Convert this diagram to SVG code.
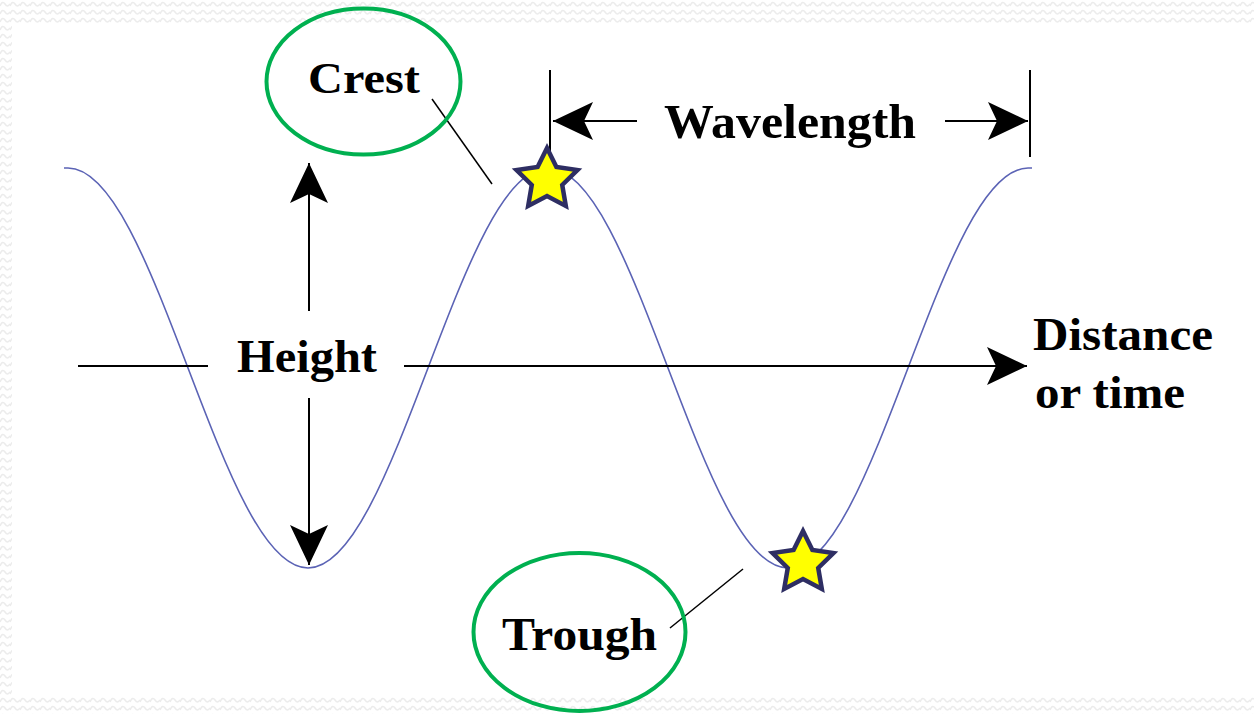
<svg xmlns="http://www.w3.org/2000/svg" width="1254" height="714" viewBox="0 0 1254 714">
  <style>
    .lbl { font-family: "Liberation Serif", "Times New Roman", serif; font-weight: bold; fill: #000; }
    .ln { stroke: #000; stroke-width: 2; fill: none; }
    .lead { stroke: #000; stroke-width: 1.5; fill: none; }
    .oval { fill: none; stroke: #00b050; stroke-width: 4; }
    .star { fill: #ffff00; stroke: #2e2e63; stroke-width: 4.5; stroke-linejoin: miter; }
    .wave { fill: none; stroke: #5b63b5; stroke-width: 1.6; }
  </style>
  <defs>
    <pattern id="zz" width="10" height="8" patternUnits="userSpaceOnUse">
      <path d="M0,6 Q2.5,0 5,4 T10,4" fill="none" stroke="#ececec" stroke-width="1.5"/>
    </pattern>
    <marker id="ah" viewBox="0 0 40 40" markerWidth="40" markerHeight="40" refX="40" refY="20" orient="auto" markerUnits="userSpaceOnUse">
      <path d="M40,20 L0,1 L9,20 L0,39 Z" fill="#000"/>
    </marker>
    <path id="starShape" d="M0,-32 L9.4,-12.94 L30.43,-9.89 L15.22,4.94 L18.81,25.89 L0,16 L-18.81,25.89 L-15.22,4.94 L-30.43,-9.89 L-9.4,-12.94 Z"/>
  </defs>

  <rect width="1254" height="714" fill="#ffffff"/>
  <g id="border">
    <rect x="0" y="0" width="1254" height="25" fill="url(#zz)"/>
    <rect x="0" y="25" width="12" height="672" fill="url(#zz)"/>
    <rect x="0" y="697" width="1254" height="17" fill="url(#zz)"/>
  </g>

  <g id="wave">
    <path class="wave" d="M64,168 L68,168 C111.43,168 148.87,265.54 188,368 C227.13,470.46 264.57,568 308,568 C351.43,568 388.87,470.46 428,368 C467.13,265.54 504.57,168 548,168 C591.43,168 628.87,265.54 668,368 C707.13,470.46 744.57,568 788,568 C831.43,568 868.87,470.46 908,368 C947.13,265.54 984.57,168 1028,168 L1032,168"/>
  </g>

  <g id="connectors">
    <line class="ln" x1="78" y1="366" x2="208" y2="366"/>
    <line class="ln" x1="404" y1="366" x2="1027" y2="366" marker-end="url(#ah)"/>
    <line class="ln" x1="309" y1="311" x2="309" y2="163" marker-end="url(#ah)"/>
    <line class="ln" x1="309" y1="398" x2="309" y2="565" marker-end="url(#ah)"/>
    <line class="ln" x1="550" y1="70" x2="550" y2="157"/>
    <line class="ln" x1="1030" y1="70" x2="1030" y2="157"/>
    <line class="ln" x1="637" y1="121" x2="553" y2="121" marker-end="url(#ah)"/>
    <line class="ln" x1="945" y1="121" x2="1028" y2="121" marker-end="url(#ah)"/>
    <line class="lead" x1="432" y1="99" x2="492" y2="184"/>
    <line class="lead" x1="670" y1="628" x2="743" y2="569"/>
  </g>

  <g id="crest">
    <ellipse class="oval" cx="363.5" cy="81.5" rx="97" ry="73"/>
    <text class="lbl" x="308" y="93" font-size="44" textLength="112" lengthAdjust="spacingAndGlyphs">Crest</text>
  </g>
  <g id="crest-star">
    <use href="#starShape" class="star" transform="translate(547,180)"/>
  </g>

  <g id="trough">
    <ellipse class="oval" cx="579.5" cy="632" rx="106" ry="79"/>
    <text class="lbl" x="502" y="650" font-size="46" textLength="155" lengthAdjust="spacingAndGlyphs">Trough</text>
  </g>
  <g id="trough-star">
    <use href="#starShape" class="star" transform="translate(803,563)"/>
  </g>

  <g id="height">
    <text class="lbl" x="237" y="372" font-size="46" textLength="140" lengthAdjust="spacingAndGlyphs">Height</text>
  </g>

  <g id="wavelength">
    <text class="lbl" x="664" y="138" font-size="48" textLength="252" lengthAdjust="spacingAndGlyphs">Wavelength</text>
  </g>

  <g id="distance">
    <text class="lbl" x="1033" y="350" font-size="46" textLength="180" lengthAdjust="spacingAndGlyphs">Distance</text>
    <text class="lbl" x="1035" y="408" font-size="46" textLength="150" lengthAdjust="spacingAndGlyphs">or time</text>
  </g>
</svg>
